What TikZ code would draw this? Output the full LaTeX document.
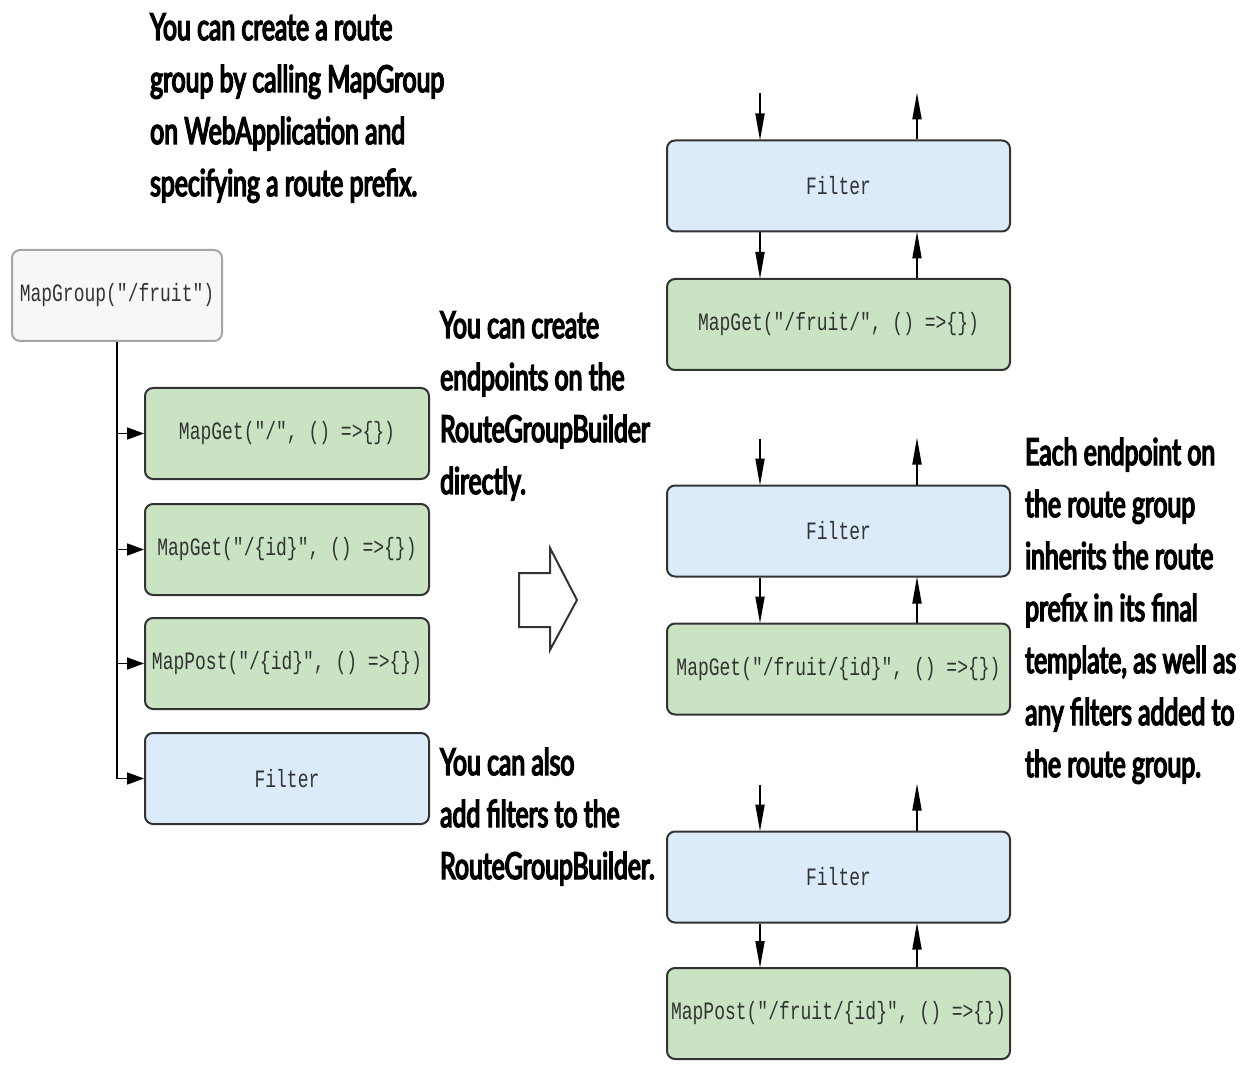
\documentclass[tikz,border=0pt]{standalone}
\usepackage{fontspec}
\usetikzlibrary{arrows.meta}
\newfontfamily\notefont[FakeStretch=0.67,FakeBold=4]{Lato}
\newfontfamily\codefont[FakeStretch=0.72]{Liberation Mono}
\definecolor{gbox}{HTML}{C9E3C3}
\definecolor{bbox}{HTML}{DCEBF9}
\definecolor{wbox}{HTML}{F6F7F9}
\definecolor{edge}{HTML}{333333}
\definecolor{txt}{HTML}{333333}
\tikzset{
  box/.style={draw=edge, line width=2pt, rounded corners=8pt, inner sep=0pt,
    font=\codefont\fontsize{25}{28}\selectfont, text=txt},
  lbox/.style={box, minimum width=284pt, minimum height=91pt},
  rbox/.style={box, minimum width=343pt, minimum height=91pt},
  note/.style={anchor=base west, align=left, inner sep=0pt,
    font=\notefont\fontsize{37}{52}\selectfont, text=black},
  arr/.style={line width=1.6pt, draw=black, -{Triangle[length=17pt,width=12pt]}},
  varr/.style={line width=1.8pt, draw=black, -{Triangle[length=27pt,width=9pt]}, shorten >=-1pt},
}
\begin{document}
\begin{tikzpicture}[x=1pt,y=-1pt]
\useasboundingbox (0,0) rectangle (1243,1067);
% notes (anchored at the baseline of their last line)
\node[note] (n1) at (150,196) {You can create a route\\group by calling MapGroup\\on WebApplication and\\specifying a route prefix.};
\node[note] (n2) at (440,494) {You can create\\endpoints on the\\RouteGroupBuilder\\directly.};
\node[note] (n3) at (440,879) {You can also\\add filters to the\\RouteGroupBuilder.};
\node[note] (n4) at (1025,777) {Each endpoint on\\the route group\\inherits the route\\prefix in its final\\template, as well as\\any filters added to\\the route group.};
% left tree
\node[box, draw=gray!70, fill=wbox, minimum width=210pt, minimum height=91pt] (mg) at (117,295.5) {MapGroup("/fruit")};
\node[lbox, fill=gbox] (g1) at (287,433.5) {MapGet("/", () =>\{\})};
\node[lbox, fill=gbox] (g2) at (287,549.5) {MapGet("/\{id\}", () =>\{\})};
\node[lbox, fill=gbox] (g3) at (287,663.5) {MapPost("/\{id\}", () =>\{\})};
\node[lbox, fill=bbox] (f0) at (287,778.5) {Filter};
\draw[line width=1.6pt] (mg.south) -- (mg.south |- f0.west);
\draw[arr] (mg.south |- g1.west) -- (g1.west);
\draw[arr] (mg.south |- g2.west) -- (g2.west);
\draw[arr] (mg.south |- g3.west) -- (g3.west);
\draw[arr] (mg.south |- f0.west) -- (f0.west);
% big hollow arrow
\draw[line width=2pt, draw=edge, line join=miter] (519,573) -- (550,573) -- (550,548) -- (577,600) -- (550,650) -- (550,627) -- (519,627) -- cycle;
% right stacks
\node[rbox, fill=bbox] (rf1) at (838.5,186) {Filter};
\node[rbox, fill=gbox] (re1) at (838.5,324.5) {MapGet("/fruit/", () =>\{\})};
\node[rbox, fill=bbox] (rf2) at (838.5,531) {Filter};
\node[rbox, fill=gbox] (re2) at (838.5,669) {MapGet("/fruit/\{id\}", () =>\{\})};
\node[rbox, fill=bbox] (rf3) at (838.5,877) {Filter};
\node[rbox, fill=gbox] (re3) at (838.5,1013.5) {MapPost("/fruit/\{id\}", () =>\{\})};
\foreach \f/\e in {rf1/re1, rf2/re2, rf3/re3}{
  \coordinate (\f in) at ([yshift=46pt]\f.north -| 760,0);
  \coordinate (\f out) at ([yshift=46pt]\f.north -| 917,0);
  \draw[varr] (\f in) -- (\f.north -| \f in);
  \draw[varr] (\f.north -| \f out) -- (\f out);
  \draw[varr] (\f.south -| \f in) -- (\e.north -| \f in);
  \draw[varr] (\e.north -| \f out) -- (\f.south -| \f out);
}
\end{tikzpicture}
\end{document}
